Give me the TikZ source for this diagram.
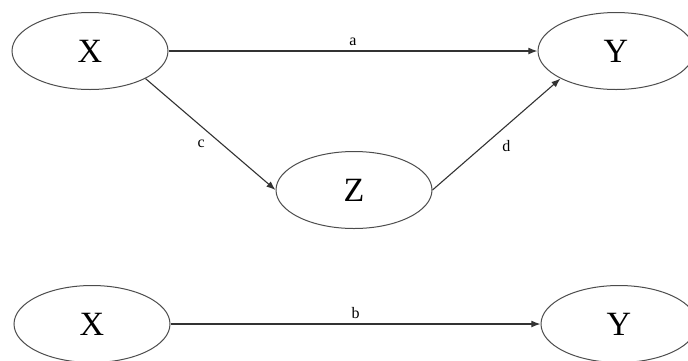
\documentclass[tikz,border=0pt]{standalone}
\usepackage{fontspec}
\setmainfont{Liberation Serif}
\usetikzlibrary{positioning,arrows.meta,shapes.geometric}

\begin{document}
\begin{tikzpicture}[
  x=1pt, y=-1pt,
  >={Latex[length=3.2mm,width=2.4mm]},
  var/.style   ={ellipse, draw=black!70, line width=1pt, fill=white, inner sep=0pt,
                 minimum width=156pt, minimum height=77pt, font=\fontsize{34}{36}\selectfont},
  effect/.style={->, draw=black!80, line width=1.1pt},
  coef/.style  ={font=\fontsize{16}{18}\selectfont},
]
\useasboundingbox (0,0) rectangle (688,360);
% mediation model
\node[var] (x1) at (90, 51)  {X};
\node[var] (y1) at (616, 51) {Y};
\node[var] (z)  at (354,190) {Z};
% total effect model
\node[var] (x2) at (92, 324)  {X};
\node[var] (y2) at (619, 324) {Y};
% arrows
\draw[effect] (x1) -- node[coef, above=1pt] {a} (y1);
\draw[effect] (x1.south east) -- node[coef, below left=2pt and 2pt] {c} (z.west);
\draw[effect] (z.east) -- node[coef, below right=2pt and 2pt] {d} (y1.south west);
\draw[effect] (x2) -- node[coef, above=1pt] {b} (y2);
\end{tikzpicture}
\end{document}
